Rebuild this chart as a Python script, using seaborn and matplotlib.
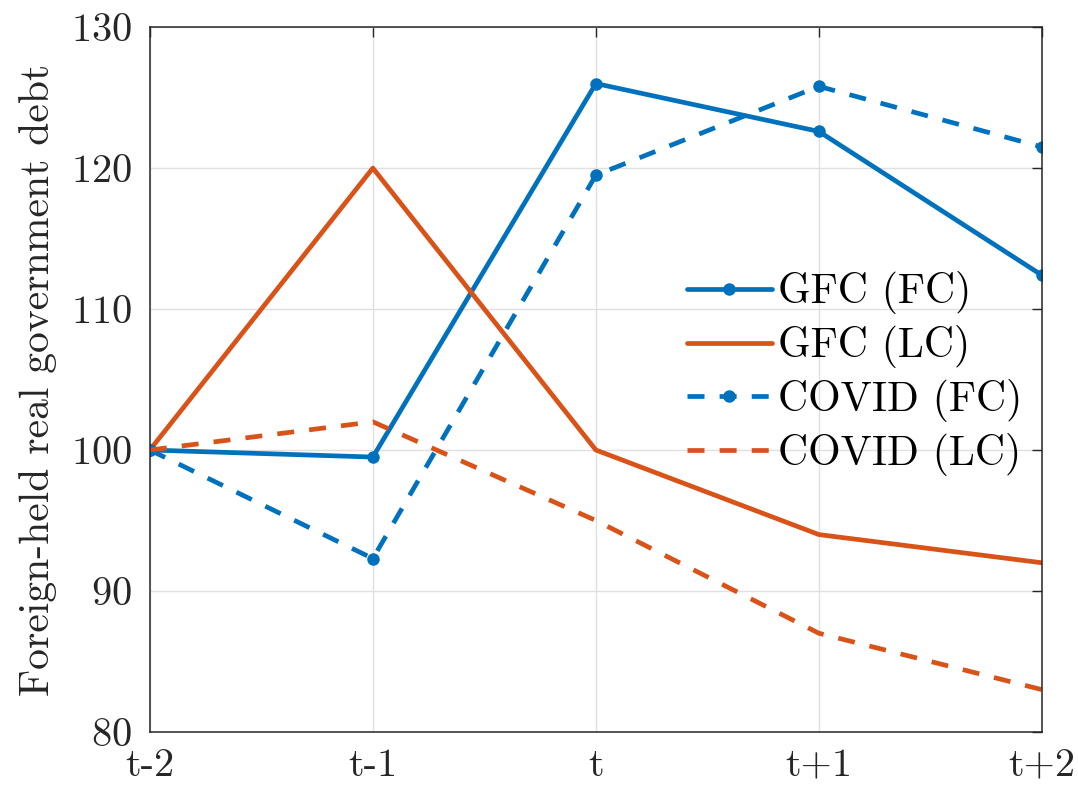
import numpy as np
import pandas as pd
import matplotlib
matplotlib.use("Agg")
import matplotlib.pyplot as plt
import seaborn as sns

periods = ['t-2', 't-1', 't', 't+1', 't+2']
gfc_fc = [100.0, 99.5, 126.0, 122.6, 112.4]
gfc_lc = [100.0, 120.0, 100.0, 94.0, 92.0]
covid_fc = [100.0, 92.3, 119.5, 125.8, 121.5]
covid_lc = [100.0, 102.0, 95.0, 87.0, 83.0]

blue = '#0072BD'
orange = '#D95319'
ink = '#262626'

sns.set_theme(style='white')
plt.rcParams['font.family'] = ['cmr10', 'DejaVu Serif']
plt.rcParams['mathtext.fontset'] = 'cm'
plt.rcParams['axes.formatter.use_mathtext'] = True
plt.rcParams['axes.unicode_minus'] = False

x = np.arange(len(periods))
df = pd.DataFrame({'x': x, 'gfc_fc': gfc_fc, 'gfc_lc': gfc_lc,
                   'covid_fc': covid_fc, 'covid_lc': covid_lc})

fig = plt.figure(figsize=(10.78, 7.87), dpi=100)
ax = fig.add_axes([0.139, 0.070, 0.8275, 0.8955])

lw = 3.4
dash = (3.6, 3.2)
sns.lineplot(data=df, x='x', y='gfc_fc', ax=ax, color=blue, lw=lw,
             marker='o', markersize=9, markeredgewidth=0, label='GFC (FC)')
sns.lineplot(data=df, x='x', y='gfc_lc', ax=ax, color=orange, lw=lw,
             label='GFC (LC)')
sns.lineplot(data=df, x='x', y='covid_fc', ax=ax, color=blue, lw=lw,
             marker='o', markersize=9, markeredgewidth=0, label='COVID (FC)')
sns.lineplot(data=df, x='x', y='covid_lc', ax=ax, color=orange, lw=lw,
             label='COVID (LC)')

for line in ax.get_lines()[2:]:
    line.set_dashes(dash)

ax.set_xlim(0, 4)
ax.set_ylim(80, 130)
ax.set_xticks(x)
ax.set_xticklabels(periods)
ax.set_yticks(np.arange(80, 131, 10))
ax.set_xlabel('')
ax.set_ylabel('Foreign-held real government debt', fontsize=30, color=ink, labelpad=10)

ax.grid(True, color='#e0e0e0', lw=1)
ax.tick_params(direction='in', length=7, width=1, colors=ink, labelsize=29,
               top=True, right=True, labeltop=False, labelright=False)
ax.tick_params(axis='x', pad=12)
ax.tick_params(axis='y', pad=13)
for s in ax.spines.values():
    s.set_visible(True)
    s.set_color(ink)
    s.set_linewidth(1.1)

leg = ax.legend(loc='center right', bbox_to_anchor=(0.978, 0.5085), frameon=False,
                fontsize=30, handlelength=2.05, handletextpad=0.14,
                labelspacing=0.26, borderaxespad=0, borderpad=0)
for t in leg.get_texts():
    t.set_color('black')
for h in leg.get_lines()[2:]:
    h.set_dashes(dash)

fig.savefig('out.png', dpi=100)
